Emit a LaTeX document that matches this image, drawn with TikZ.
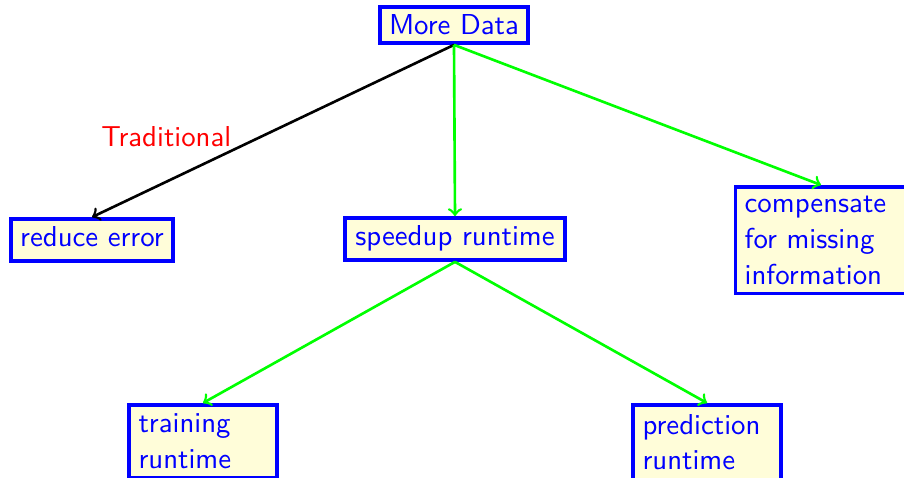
\documentclass[tikz,border=0pt]{standalone}
\usetikzlibrary{arrows}
\begin{document}
\begin{tikzpicture}[x=0.38pt,y=-0.38pt,
  box/.style={draw=blue, line width=1.4pt, fill=yellow!15, text=blue,
    font=\fontsize{10.95}{13.6}\selectfont\sffamily, inner xsep=3.5pt, inner ysep=3pt},
  wbox/.style={box, align=left, anchor=north, inner ysep=3.5pt},
  garrow/.style={draw=green, line width=1pt, ->},
  karrow/.style={draw=black, line width=1pt, ->}]
\clip (0,0) rectangle (904,478);
\useasboundingbox (0,0) rectangle (904,478);
\node[box] (more) at (454,25) {More Data};
\node[box, text height=7.5pt, text depth=2.5pt] (reduce) at (92,240) {reduce error};
\node[box, text height=7.5pt, text depth=2.5pt, inner xsep=4pt] (speed) at (455,239) {speedup runtime};
\node[wbox, text width=58pt] (comp) at (821,185) {compensate\\for missing\\information};
\node[wbox, text width=49pt] (train) at (203,403) {training\\runtime};
\node[wbox, text width=49pt] (pred) at (707,403) {prediction\\runtime};
\draw[karrow] (more.south) -- node[midway, left=12pt, yshift=-2pt, text=red, font=\fontsize{10.95}{13.6}\selectfont\sffamily] {Traditional} (reduce.north);
\draw[garrow] (more.south) -- (speed.north);
\draw[garrow] (more.south) -- (comp.north);
\draw[garrow] (speed.south) -- (train.north);
\draw[garrow] (speed.south) -- (pred.north);
\end{tikzpicture}
\end{document}
